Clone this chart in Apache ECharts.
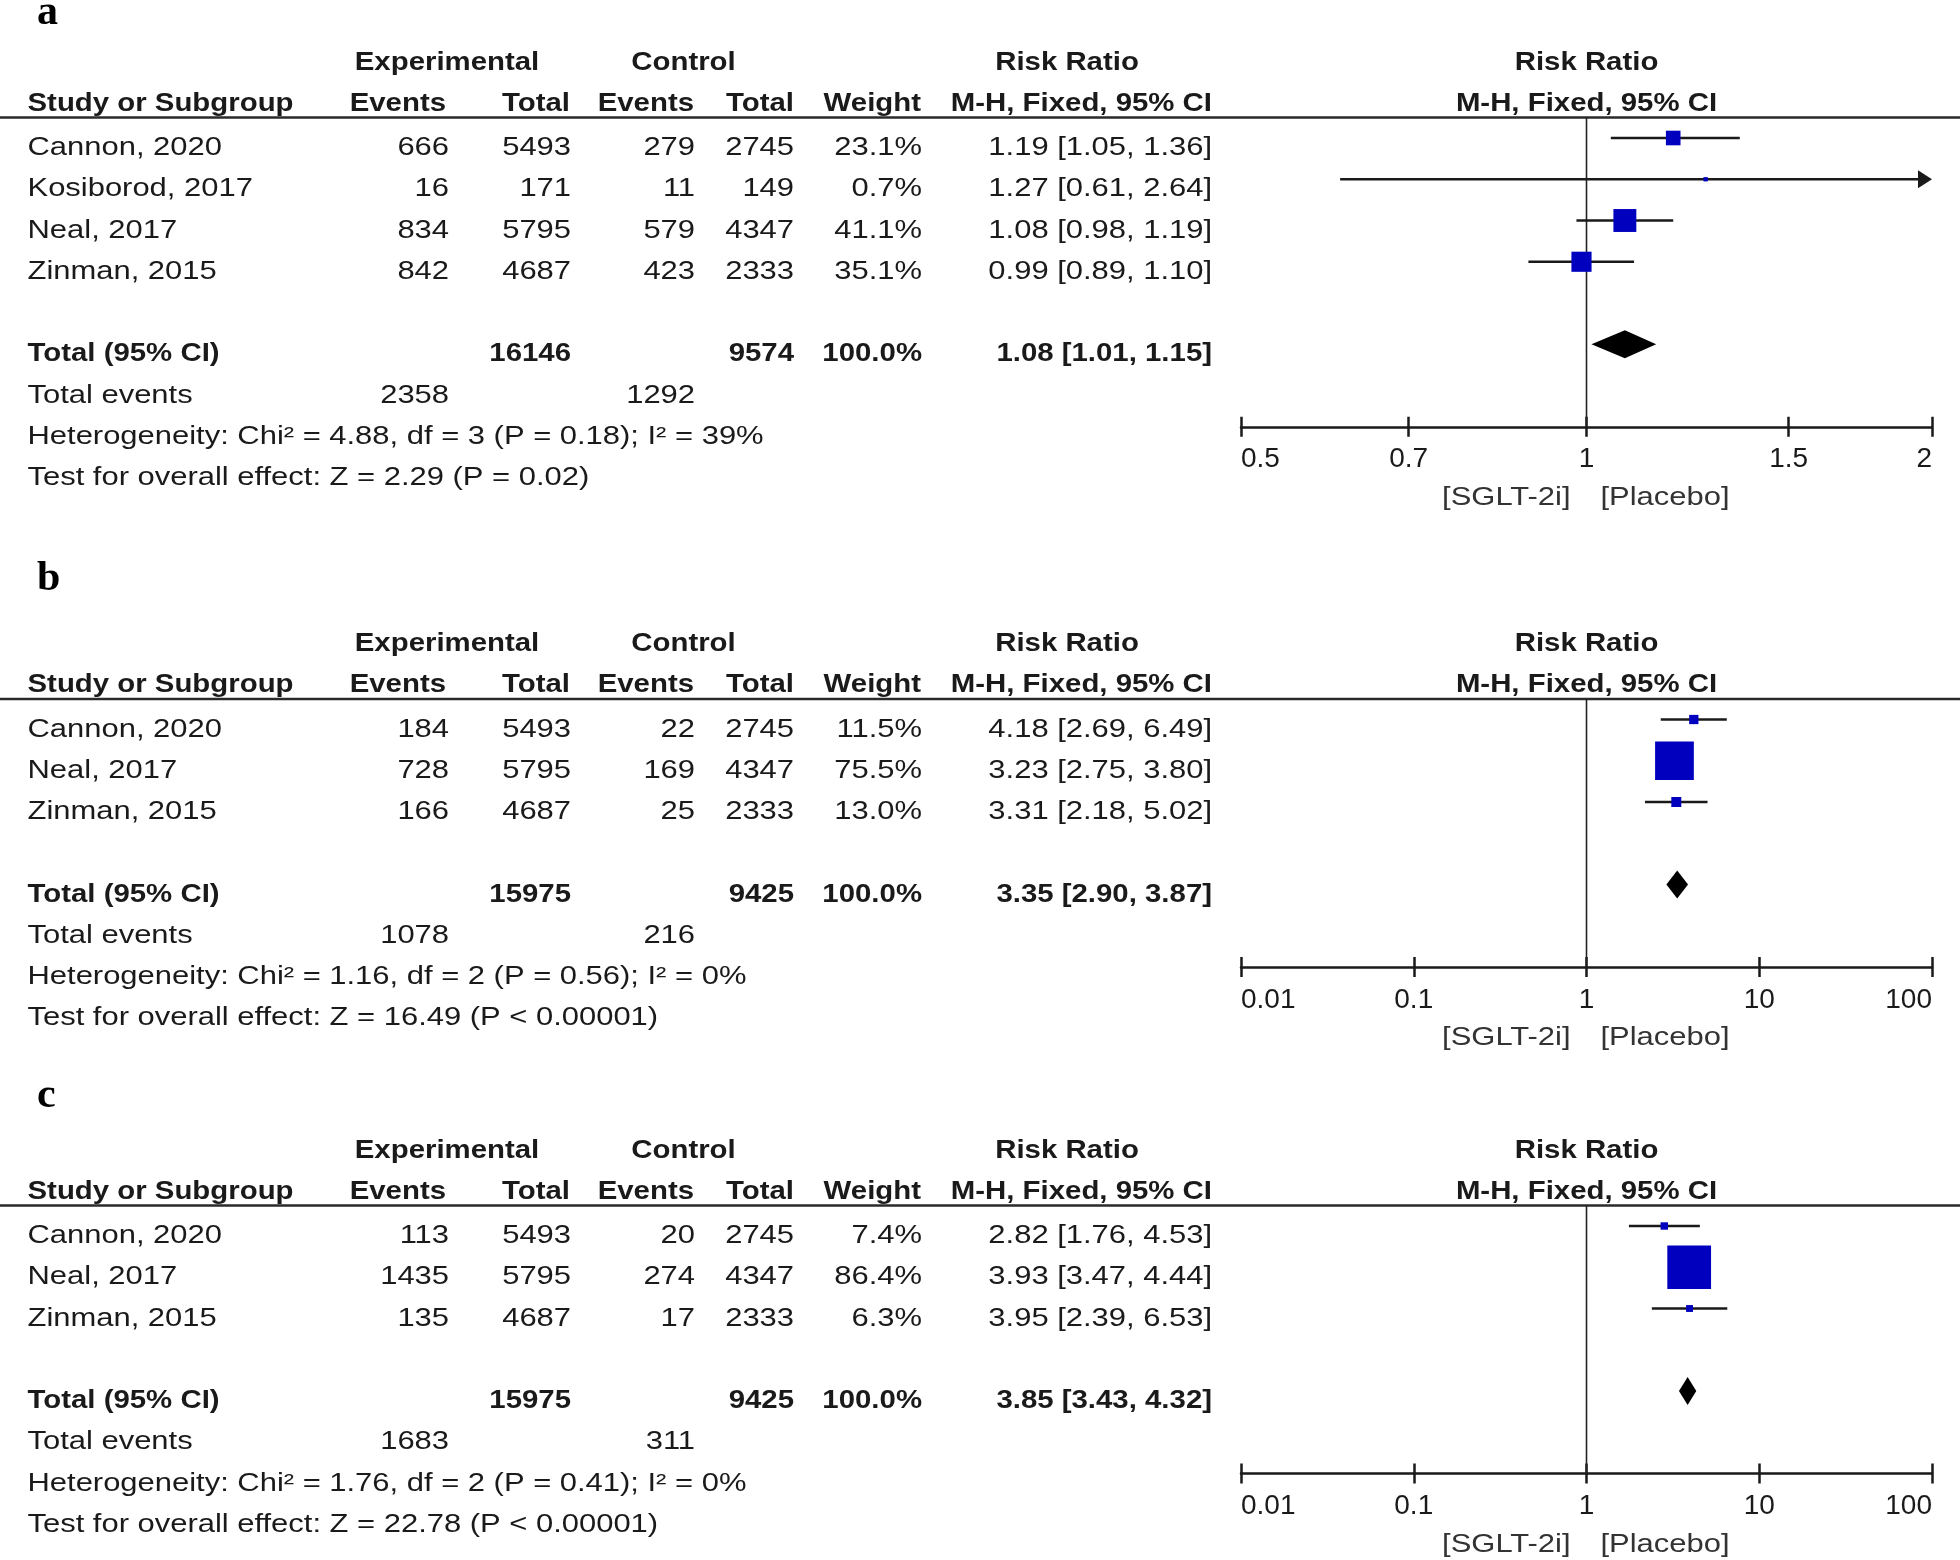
<!DOCTYPE html>
<html>
<head>
<meta charset="utf-8">
<script src="https://cdn.jsdelivr.net/npm/echarts@6.0.0/dist/echarts.min.js"></script>
<style>
  html, body { margin: 0; padding: 0; background: #fff; }
  #forest { width: 1960px; height: 1560px; }
</style>
</head>
<body>
<div id="forest"></div>
<script>
// ---- panel a ----
const namesA = ['Cannon, 2020', 'Kosiborod, 2017', 'Neal, 2017', 'Zinman, 2015'];
const expEventsA = [666, 16, 834, 842];
const expTotalA = [5493, 171, 5795, 4687];
const ctlEventsA = [279, 11, 579, 423];
const ctlTotalA = [2745, 149, 4347, 2333];
const weightA = [23.1, 0.7, 41.1, 35.1];
const rrA = [1.19, 1.27, 1.08, 0.99];
const lowA = [1.05, 0.61, 0.98, 0.89];
const highA = [1.36, 2.64, 1.19, 1.10];
const pooledA = [1.08, 1.01, 1.15];
const sumTotalA = [16146, 9574];
const sumEventsA = [2358, 1292];
const hetA = 'Heterogeneity: Chi² = 4.88, df = 3 (P = 0.18); I² = 39%';
const effectA = 'Test for overall effect: Z = 2.29 (P = 0.02)';
const ticksA = [0.5, 0.7, 1, 1.5, 2];

// ---- panel b ----
const namesB = ['Cannon, 2020', 'Neal, 2017', 'Zinman, 2015'];
const expEventsB = [184, 728, 166];
const expTotalB = [5493, 5795, 4687];
const ctlEventsB = [22, 169, 25];
const ctlTotalB = [2745, 4347, 2333];
const weightB = [11.5, 75.5, 13.0];
const rrB = [4.18, 3.23, 3.31];
const lowB = [2.69, 2.75, 2.18];
const highB = [6.49, 3.80, 5.02];
const pooledB = [3.35, 2.90, 3.87];
const sumTotalB = [15975, 9425];
const sumEventsB = [1078, 216];
const hetB = 'Heterogeneity: Chi² = 1.16, df = 2 (P = 0.56); I² = 0%';
const effectB = 'Test for overall effect: Z = 16.49 (P < 0.00001)';
const ticksB = [0.01, 0.1, 1, 10, 100];

// ---- panel c ----
const namesC = ['Cannon, 2020', 'Neal, 2017', 'Zinman, 2015'];
const expEventsC = [113, 1435, 135];
const expTotalC = [5493, 5795, 4687];
const ctlEventsC = [20, 274, 17];
const ctlTotalC = [2745, 4347, 2333];
const weightC = [7.4, 86.4, 6.3];
const rrC = [2.82, 3.93, 3.95];
const lowC = [1.76, 3.47, 2.39];
const highC = [4.53, 4.44, 6.53];
const pooledC = [3.85, 3.43, 4.32];
const sumTotalC = [15975, 9425];
const sumEventsC = [1683, 311];
const hetC = 'Heterogeneity: Chi² = 1.76, df = 2 (P = 0.41); I² = 0%';
const effectC = 'Test for overall effect: Z = 22.78 (P < 0.00001)';
const ticksC = [0.01, 0.1, 1, 10, 100];

const panels = [
  { label: 'a', names: namesA, expEv: expEventsA, expTot: expTotalA, ctlEv: ctlEventsA, ctlTot: ctlTotalA,
    weight: weightA, rr: rrA, low: lowA, high: highA, pooled: pooledA, sumTotal: sumTotalA,
    sumEvents: sumEventsA, het: hetA, effect: effectA, ticks: ticksA },
  { label: 'b', names: namesB, expEv: expEventsB, expTot: expTotalB, ctlEv: ctlEventsB, ctlTot: ctlTotalB,
    weight: weightB, rr: rrB, low: lowB, high: highB, pooled: pooledB, sumTotal: sumTotalB,
    sumEvents: sumEventsB, het: hetB, effect: effectB, ticks: ticksB },
  { label: 'c', names: namesC, expEv: expEventsC, expTot: expTotalC, ctlEv: ctlEventsC, ctlTot: ctlTotalC,
    weight: weightC, rr: rrC, low: lowC, high: highC, pooled: pooledC, sumTotal: sumTotalC,
    sumEvents: sumEventsC, het: hetC, effect: effectC, ticks: ticksC }
];

// layout
const PITCH = 41.25;              // px per table row
const ROW0 = [138, 719.5, 1226];  // pixel y of the first study marker in each panel
const LETTER_Y = [13, 579, 1096];
const GRID_LEFT = 1241, GRID_RIGHT = 28;
const COL = { name: 27.5, expEv: 449, expTot: 571, ctlEv: 695, ctlTot: 794, weight: 922, rr: 1212,
  expHead: 447, ctlHead: 683.5, rrHead: 1067 };
const TEXT_DY = 10, HEAD_DY = 7;
const FONT_PX = 26, REG_SX = 1.19, BOLD_SX = 1.13;
const INK = '#1a1a1a', BLUE = '#0000be';
const ARROW_LEN = 14;

const fmt2 = v => v.toFixed(2);
const ciText = (e, l, h) => fmt2(e) + ' [' + fmt2(l) + ', ' + fmt2(h) + ']';

function renderStudy(params, api) {
  const cs = params.coordSys;
  const row = api.value(3);
  const pLo = api.coord([api.value(1), row]);
  const y = pLo[1];
  const xHi = api.coord([api.value(2), row])[0];
  const xMid = api.coord([api.value(0), row])[0];
  const left = cs.x, right = cs.x + cs.width;
  const side = 4 + 0.46 * api.value(4);
  const over = xHi > right + 0.5;
  const x0 = Math.max(pLo[0], left);
  const x1 = over ? right - ARROW_LEN + 1 : Math.min(xHi, right);
  const children = [
    { type: 'line', shape: { x1: x0, y1: y, x2: x1, y2: y }, style: { stroke: INK, lineWidth: 2.5 } }
  ];
  if (over) {
    children.push({ type: 'polygon',
      shape: { points: [[right - ARROW_LEN, y - 9], [right, y], [right - ARROW_LEN, y + 9]] },
      style: { fill: INK } });
  }
  children.push({ type: 'rect', shape: { x: xMid - side / 2, y: y - side / 2, width: side, height: side },
    style: { fill: BLUE } });
  return { type: 'group', children };
}

function renderPooled(params, api) {
  const row = api.value(3);
  const pm = api.coord([api.value(0), row]);
  const xl = api.coord([api.value(1), row])[0];
  const xh = api.coord([api.value(2), row])[0];
  const h = 14;
  return { type: 'polygon',
    shape: { points: [[xl, pm[1]], [pm[0], pm[1] - h], [xh, pm[1]], [pm[0], pm[1] + h]] },
    style: { fill: '#000' } };
}

const grid = [], xAxis = [], yAxis = [], series = [];
panels.forEach((p, k) => {
  const n = p.names.length;
  grid.push({ left: GRID_LEFT, right: GRID_RIGHT, top: ROW0[k] - 0.5 * PITCH, height: (n + 3.5) * PITCH });
  const logAxis = {
    type: 'log', logBase: 10, gridIndex: k, position: 'bottom', offset: 0,
    min: p.ticks[0], max: p.ticks[p.ticks.length - 1],
    splitLine: { show: false }, minorTick: { show: false }
  };
  xAxis.push(Object.assign({}, logAxis, {
    axisLine: { show: true, onZero: false, lineStyle: { color: INK, width: 2.5 } },
    axisTick: { show: true, length: 10, customValues: p.ticks, lineStyle: { color: INK, width: 2.5 } },
    axisLabel: {
      customValues: p.ticks, margin: 19, fontSize: 28, fontFamily: 'Liberation Sans', color: INK,
      alignMinLabel: 'left', alignMaxLabel: 'right', showMinLabel: true, showMaxLabel: true,
      formatter: v => String(parseFloat(Number(v).toPrecision(4)))
    }
  }));
  xAxis.push(Object.assign({}, logAxis, {
    axisLine: { show: false, onZero: false },
    axisTick: { show: true, inside: true, length: 10, customValues: p.ticks, lineStyle: { color: INK, width: 2.5 } },
    axisLabel: { show: false }
  }));
  yAxis.push({ type: 'value', gridIndex: k, inverse: true, min: -0.5, max: n + 3, show: false });

  series.push({
    type: 'line', xAxisIndex: 2 * k, yAxisIndex: k, silent: true, symbol: 'none', z: 1,
    lineStyle: { color: '#222', width: 1.6 },
    data: [[1, -0.5], [1, n + 3]]
  });
  series.push({
    type: 'custom', xAxisIndex: 2 * k, yAxisIndex: k, silent: true, z: 3,
    dimensions: ['rr', 'low', 'high', 'row', 'weight'],
    encode: { x: [0, 1, 2], y: 3 },
    renderItem: renderStudy,
    data: p.rr.map((v, i) => [v, p.low[i], p.high[i], i, p.weight[i]])
  });
  series.push({
    type: 'custom', xAxisIndex: 2 * k, yAxisIndex: k, silent: true, z: 3,
    dimensions: ['rr', 'low', 'high', 'row'],
    encode: { x: [0, 1, 2], y: 3 },
    renderItem: renderPooled,
    data: [[p.pooled[0], p.pooled[1], p.pooled[2], n + 1]]
  });
});

const chart = echarts.init(document.getElementById('forest'), null, { renderer: 'canvas' });
chart.setOption({ animation: false, backgroundColor: '#fff', grid, xAxis, yAxis, series });

function txt(x, y, text, align, bold, fill) {
  return {
    type: 'text', x, y, scaleX: bold ? BOLD_SX : REG_SX, silent: true,
    style: {
      text, fill: fill || INK, align: align, verticalAlign: 'middle',
      font: (bold ? 'bold ' : '') + FONT_PX + 'px "Liberation Sans", Arial, sans-serif'
    }
  };
}

const graphic = [];
panels.forEach((p, k) => {
  const n = p.names.length;
  const px = (v, r) => chart.convertToPixel({ gridIndex: k }, [v, r]);
  const yRow = r => px(1, r)[1] + TEXT_DY;
  const yHead = r => px(1, r)[1] + HEAD_DY;
  const xOne = px(1, 0)[0];
  const yTop = px(1, -0.5)[1];
  const yAxisLine = px(1, n + 3)[1];
  const plotMid = GRID_LEFT + (1960 - GRID_LEFT - GRID_RIGHT) / 2;

  graphic.push({ type: 'text', x: 37, y: LETTER_Y[k], silent: true,
    style: { text: p.label, fill: '#000', verticalAlign: 'middle',
      font: 'bold 42px "Liberation Serif", "Times New Roman", serif' } });

  graphic.push({ type: 'line', silent: true, shape: { x1: 0, y1: yTop, x2: 1960, y2: yTop },
    style: { stroke: '#2a2a2a', lineWidth: 2.5 } });

  // headers
  graphic.push(txt(COL.expHead, yHead(-2), 'Experimental', 'center', true));
  graphic.push(txt(COL.ctlHead, yHead(-2), 'Control', 'center', true));
  graphic.push(txt(COL.rrHead, yHead(-2), 'Risk Ratio', 'center', true));
  graphic.push(txt(plotMid, yHead(-2), 'Risk Ratio', 'center', true));
  graphic.push(txt(COL.name, yHead(-1), 'Study or Subgroup', 'left', true));
  graphic.push(txt(COL.expEv - 3, yHead(-1), 'Events', 'right', true));
  graphic.push(txt(COL.expTot - 1, yHead(-1), 'Total', 'right', true));
  graphic.push(txt(COL.ctlEv - 1, yHead(-1), 'Events', 'right', true));
  graphic.push(txt(COL.ctlTot, yHead(-1), 'Total', 'right', true));
  graphic.push(txt(COL.weight - 1, yHead(-1), 'Weight', 'right', true));
  graphic.push(txt(COL.rr, yHead(-1), 'M-H, Fixed, 95% CI', 'right', true));
  graphic.push(txt(plotMid, yHead(-1), 'M-H, Fixed, 95% CI', 'center', true));

  // study rows
  p.names.forEach((name, i) => {
    const y = yRow(i);
    graphic.push(txt(COL.name, y, name, 'left'));
    graphic.push(txt(COL.expEv, y, String(p.expEv[i]), 'right'));
    graphic.push(txt(COL.expTot, y, String(p.expTot[i]), 'right'));
    graphic.push(txt(COL.ctlEv, y, String(p.ctlEv[i]), 'right'));
    graphic.push(txt(COL.ctlTot, y, String(p.ctlTot[i]), 'right'));
    graphic.push(txt(COL.weight, y, p.weight[i].toFixed(1) + '%', 'right'));
    graphic.push(txt(COL.rr, y, ciText(p.rr[i], p.low[i], p.high[i]), 'right'));
  });

  // total rows
  let y = yRow(n + 1);
  graphic.push(txt(COL.name, y, 'Total (95% CI)', 'left', true));
  graphic.push(txt(COL.expTot, y, String(p.sumTotal[0]), 'right', true));
  graphic.push(txt(COL.ctlTot, y, String(p.sumTotal[1]), 'right', true));
  graphic.push(txt(COL.weight, y, '100.0%', 'right', true));
  graphic.push(txt(COL.rr, y, ciText(p.pooled[0], p.pooled[1], p.pooled[2]), 'right', true));
  y = yRow(n + 2);
  graphic.push(txt(COL.name, y, 'Total events', 'left'));
  graphic.push(txt(COL.expEv, y, String(p.sumEvents[0]), 'right'));
  graphic.push(txt(COL.ctlEv, y, String(p.sumEvents[1]), 'right'));
  graphic.push(txt(COL.name, yRow(n + 3), p.het, 'left'));
  graphic.push(txt(COL.name, yRow(n + 4), p.effect, 'left'));

  // favours labels
  graphic.push(txt(xOne - 16, yAxisLine + 71, '[SGLT-2i]', 'right', false, '#333'));
  graphic.push(txt(xOne + 14, yAxisLine + 71, '[Placebo]', 'left', false, '#333'));
});

chart.setOption({ graphic });
</script>
</body>
</html>
